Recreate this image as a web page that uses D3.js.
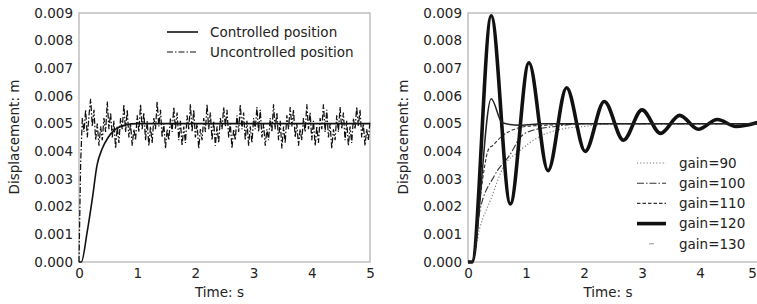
<!DOCTYPE html>
<html lang="en">
<head>
<meta charset="UTF-8">
<title>Displacement response</title>
<style>
  body { margin: 0; background: #fff; }
  svg text { font-family: "DejaVu Sans", sans-serif; fill: #222; }
</style>
</head>
<body>
<svg width="757" height="304"></svg>
<script src="https://d3js.org/d3.v7.min.js"></script>
<script>
// axis ticks
var xTicks = [0, 1, 2, 3, 4, 5];
var yTicks = [0, 0.001, 0.002, 0.003, 0.004, 0.005, 0.006, 0.007, 0.008, 0.009];

// left panel: controlled vs uncontrolled
var controlledT = [0, 0.04, 0.14, 0.23, 0.31, 0.40, 0.50, 0.63, 0.80, 1.0, 5.0];
var controlledY = [0, 0, 0.00108, 0.0023, 0.0035, 0.0041, 0.0045, 0.0048, 0.00495, 0.005, 0.005];

// uncontrolled position, sampled every 1/35 s
var uncontrolledStep = 1 / 35;
var uncontrolledY = [
  0, 0.0036, 0.0052, 0.0047, 0.0055, 0.0045, 0.0053,
  0.0059, 0.0049, 0.0055, 0.0044, 0.0050, 0.0042, 0.0049, 0.0044, 0.0052, 0.0047,
  0.0058, 0.0048, 0.0054, 0.0045, 0.0051, 0.0041, 0.0049, 0.0043, 0.0052, 0.0048,
  0.0057, 0.0047, 0.0055, 0.0045, 0.0050, 0.0042, 0.0048, 0.0044, 0.0053, 0.0047,
  0.0057, 0.0048, 0.0054, 0.0044, 0.0051, 0.0042, 0.0049, 0.0043, 0.0052, 0.0048,
  0.0058, 0.0049, 0.0055, 0.0045, 0.0050, 0.0041, 0.0048, 0.0044, 0.0052, 0.0047,
  0.0056, 0.0048, 0.0054, 0.0044, 0.0051, 0.0042, 0.0049, 0.0043, 0.0053, 0.0048,
  0.0057, 0.0047, 0.0055, 0.0045, 0.0050, 0.0041, 0.0048, 0.0044, 0.0052, 0.0047,
  0.0057, 0.0048, 0.0054, 0.0044, 0.0051, 0.0042, 0.0049, 0.0043, 0.0052, 0.0048,
  0.0056, 0.0049, 0.0055, 0.0045, 0.0050, 0.0041, 0.0048, 0.0044, 0.0053, 0.0047,
  0.0057, 0.0048, 0.0054, 0.0044, 0.0051, 0.0042, 0.0049, 0.0043, 0.0052, 0.0048,
  0.0056, 0.0047, 0.0055, 0.0045, 0.0050, 0.0042, 0.0048, 0.0044, 0.0052, 0.0047,
  0.0057, 0.0048, 0.0054, 0.0044, 0.0051, 0.0041, 0.0049, 0.0043, 0.0053, 0.0048,
  0.0056, 0.0049, 0.0055, 0.0045, 0.0050, 0.0042, 0.0048, 0.0044, 0.0052, 0.0047,
  0.0057, 0.0048, 0.0054, 0.0044, 0.0051, 0.0042, 0.0049, 0.0043, 0.0052, 0.0048,
  0.0057, 0.0047, 0.0055, 0.0045, 0.0050, 0.0041, 0.0048, 0.0044, 0.0053, 0.0047,
  0.0056, 0.0048, 0.0054, 0.0044, 0.0051, 0.0042, 0.0049, 0.0043, 0.0052, 0.0048,
  0.0056, 0.0049, 0.0055, 0.0045, 0.0050, 0.0042, 0.0048, 0.0044, 0.0051
];

// right panel: step responses for different gains
var gain90T = [0, 0.07, 0.2, 0.4, 0.6, 0.88, 1.25, 1.6, 2.0, 2.5, 5.0];
var gain90Y = [0, 0, 0.0012, 0.0023, 0.0034, 0.0040, 0.00455, 0.0048, 0.0049, 0.005, 0.005];
var gain100T = [0, 0.07, 0.2, 0.45, 0.73, 0.9, 1.1, 1.5, 2.0, 5.0];
var gain100Y = [0, 0, 0.0018, 0.0031, 0.0039, 0.0045, 0.00475, 0.0049, 0.005, 0.005];
var gain110T = [0, 0.07, 0.2, 0.36, 0.42, 0.59, 0.8, 1.0, 1.4, 2.0, 5.0];
var gain110Y = [0, 0, 0.0022, 0.0041, 0.0042, 0.00456, 0.0048, 0.0049, 0.00495, 0.005, 0.005];
var gain120T = [0, 0.07, 0.40, 0.73, 1.05, 1.38, 1.70, 2.02, 2.35, 2.68, 3.00, 3.32, 3.65, 3.97, 4.30, 4.62, 5.0];
var gain120Y = [0, 0, 0.0089, 0.0021, 0.0072, 0.0033, 0.0063, 0.0040, 0.0058, 0.0044, 0.0055, 0.00465, 0.0053, 0.0048, 0.00515, 0.0049, 0.00505];
var gain130T = [0, 0.07, 0.40, 0.59, 0.9, 1.3, 5.0];
var gain130Y = [0, 0, 0.0059, 0.00503, 0.00494, 0.005, 0.005];

var legendLeft = ["Controlled position", "Uncontrolled position"];
var legendRight = ["gain=90", "gain=100", "gain=110", "gain=120", "gain=130"];

var svg = d3.select("svg");
var y = d3.scaleLinear().domain([0, 0.009]).range([262, 13]);
var xLeft = d3.scaleLinear().domain([0, 5]).range([79, 370]);
var xRight = d3.scaleLinear().domain([0, 5]).range([468, 758]);

function zip(ts, ys) {
  return ts.map(function(t, i) { return [t, ys[i]]; });
}

function drawFrame(x) {
  var g = svg.append("g");
  g.append("rect")
    .attr("x", x(0)).attr("y", y(0.009))
    .attr("width", x(5) - x(0)).attr("height", y(0) - y(0.009))
    .attr("fill", "none").attr("stroke", "#b5b5b5").attr("stroke-width", 1.3);

  var ya = g.append("g").attr("transform", "translate(" + x(0) + ",0)")
    .call(d3.axisLeft(y).tickValues(yTicks).tickSize(0).tickPadding(6).tickFormat(d3.format(".3f")));
  ya.select(".domain").remove();
  ya.selectAll("text").style("font-size", "13.5px").attr("fill", "#222");

  var xa = g.append("g").attr("transform", "translate(0," + y(0) + ")")
    .call(d3.axisBottom(x).tickValues(xTicks).tickSize(0).tickPadding(6).tickFormat(d3.format("d")));
  xa.select(".domain").remove();
  xa.selectAll("text").style("font-size", "13.5px").attr("fill", "#222")
    .attr("x", function(d) { return x(d) > 750 ? 752 - x(d) : 0; });

  g.append("text")
    .attr("transform", "translate(" + (x(0) - 65) + "," + 137 + ") rotate(-90)")
    .attr("text-anchor", "middle").attr("dy", "0.35em")
    .style("font-size", "13.5px")
    .text("Displacement: m");
  g.append("text")
    .attr("x", (x(0) + x(5)) / 2 - 5).attr("y", 297)
    .attr("text-anchor", "middle")
    .style("font-size", "13.5px")
    .text("Time: s");
}

drawFrame(xLeft);
drawFrame(xRight);

var lineL = d3.line().x(function(d) { return xLeft(d[0]); }).y(function(d) { return y(d[1]); });
var lineR = d3.line().x(function(d) { return xRight(d[0]); }).y(function(d) { return y(d[1]); });

// uncontrolled
svg.append("path")
  .datum(uncontrolledY.map(function(v, i) { return [i * uncontrolledStep, v]; }))
  .attr("d", lineL)
  .attr("fill", "none").attr("stroke", "#111").attr("stroke-width", 1.25)
  .attr("stroke-dasharray", "6,2,1.5,2");

// controlled
svg.append("path")
  .datum(zip(controlledT, controlledY))
  .attr("d", lineL.curve(d3.curveMonotoneX))
  .attr("fill", "none").attr("stroke", "#111").attr("stroke-width", 1.6);

// left legend
var legL = svg.append("g");
legL.append("line").attr("x1", 167).attr("x2", 198).attr("y1", 32).attr("y2", 32)
  .attr("stroke", "#111").attr("stroke-width", 1.6);
legL.append("line").attr("x1", 167).attr("x2", 198).attr("y1", 52).attr("y2", 52)
  .attr("stroke", "#111").attr("stroke-width", 1.1).attr("stroke-dasharray", "6,2,1.5,2");
legL.selectAll("text").data(legendLeft).enter().append("text")
  .attr("x", 210).attr("y", function(d, i) { return 32 + i * 20; })
  .attr("dy", "0.35em").style("font-size", "13.5px")
  .text(function(d) { return d; });

// right panel curves
var rStyles = [
  { data: zip(gain90T, gain90Y), stroke: "#777", w: 1.1, dash: "1.2,2" },
  { data: zip(gain100T, gain100Y), stroke: "#333", w: 1.1, dash: "7,2,1.5,2" },
  { data: zip(gain110T, gain110Y), stroke: "#333", w: 1.1, dash: "3.5,2" },
  { data: zip(gain120T, gain120Y), stroke: "#111", w: 3.6, dash: null },
  { data: zip(gain130T, gain130Y), stroke: "#222", w: 1.5, dash: null }
];
lineR.curve(d3.curveMonotoneX);
svg.append("g").selectAll("path").data(rStyles).enter().append("path")
  .attr("d", function(d) { return lineR(d.data); })
  .attr("fill", "none")
  .attr("stroke", function(d) { return d.stroke; })
  .attr("stroke-width", function(d) { return d.w; })
  .attr("stroke-dasharray", function(d) { return d.dash; });

// right legend
var legR = svg.append("g");
legR.append("rect").attr("x", 631).attr("y", 150).attr("width", 126).attr("height", 111)
  .attr("fill", "#fff");
var items = legR.selectAll("g").data(legendRight).enter().append("g")
  .attr("transform", function(d, i) { return "translate(0," + (163 + i * 20.2) + ")"; });
items.append("line")
  .attr("x1", function(d, i) { return i === 4 ? 649 : 637; })
  .attr("x2", function(d, i) { return i === 4 ? 654 : 666; })
  .attr("stroke", function(d, i) { return i === 4 ? "#999" : rStyles[i].stroke; })
  .attr("stroke-width", function(d, i) { return i === 4 ? 1 : rStyles[i].w; })
  .attr("stroke-dasharray", function(d, i) { return i === 4 ? null : rStyles[i].dash; });
items.append("text").attr("x", 679).attr("dy", "0.35em").style("font-size", "13.5px")
  .text(function(d) { return d; });
</script>
</body>
</html>
